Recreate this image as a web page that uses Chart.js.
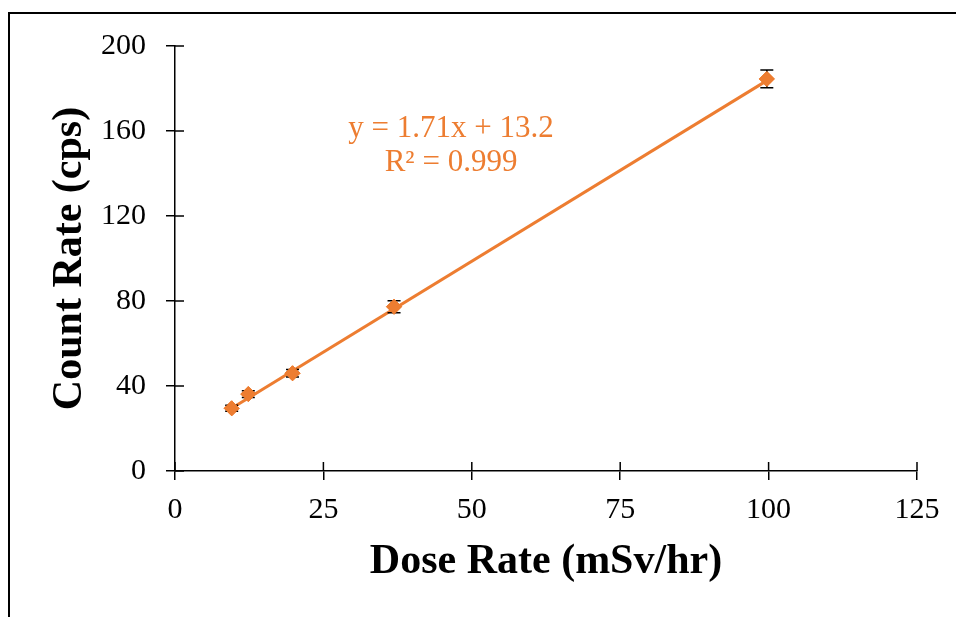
<!DOCTYPE html>
<html>
<head>
<meta charset="utf-8">
<script src="https://cdn.jsdelivr.net/npm/chart.js@4.4.1/dist/chart.umd.min.js"></script>
<style>
  html, body { margin: 0; padding: 0; background: #fff; }
  #wrap { position: relative; width: 956px; height: 617px; }
  #frame { position: absolute; left: 8px; top: 12px; right: 0; bottom: 0;
           border-left: 2px solid #000; border-top: 2px solid #000; pointer-events: none; }
</style>
</head>
<body>
<div id="wrap">
  <canvas id="chart" width="956" height="617"></canvas>
  <div id="frame"></div>
</div>
<script>
const doseRate = [9.55, 12.35, 19.8, 36.9, 99.7];
const countRate = [29.5, 36.2, 46.0, 77.3, 184.5];
const countErr = [1.4, 1.6, 1.8, 2.8, 4.2];
const trendX = [9.55, 99.7];
const trendY = [29.5, 183.7];
const xTicks = [0, 25, 50, 75, 100, 125];
const yTicks = [0, 40, 80, 120, 160, 200];
const fitText = ["y = 1.71x + 13.2", "R\u00b2 = 0.999"];

const orange = "#ED7D31";
const serif = "'Liberation Serif', 'Times New Roman', serif";

const points = doseRate.map((x, i) => ({ x: x, y: countRate[i] }));
const trend = trendX.map((x, i) => ({ x: x, y: trendY[i] }));

// error bars + inner half of the axis ticks + equation text
const extras = {
  id: 'extras',
  beforeDatasetsDraw(chart) {
    const ctx = chart.ctx;
    const xs = chart.scales.x, ys = chart.scales.y;
    ctx.save();
    ctx.strokeStyle = '#000';
    ctx.lineWidth = 1.5;
    ctx.beginPath();
    xTicks.forEach(v => {
      const px = xs.getPixelForValue(v);
      ctx.moveTo(px, ys.bottom);
      ctx.lineTo(px, ys.bottom - 9);
    });
    yTicks.forEach(v => {
      const py = ys.getPixelForValue(v);
      ctx.moveTo(xs.left, py);
      ctx.lineTo(xs.left + 9, py);
    });
    ctx.stroke();
    ctx.restore();
  },
  afterDatasetsDraw(chart) {
    const ctx = chart.ctx;
    const xs = chart.scales.x, ys = chart.scales.y;
    ctx.save();
    ctx.strokeStyle = '#000';
    ctx.lineWidth = 1.5;
    ctx.beginPath();
    doseRate.forEach((x, i) => {
      const px = xs.getPixelForValue(x);
      const top = ys.getPixelForValue(countRate[i] + countErr[i]);
      const bot = ys.getPixelForValue(countRate[i] - countErr[i]);
      ctx.moveTo(px, top); ctx.lineTo(px, bot);
      ctx.moveTo(px - 6.5, top); ctx.lineTo(px + 6.5, top);
      ctx.moveTo(px - 6.5, bot); ctx.lineTo(px + 6.5, bot);
    });
    ctx.stroke();
    // redraw markers on top of the bars
    const meta = chart.getDatasetMeta(0);
    meta.data.forEach(el => el.draw(ctx));

    const cx = xs.getPixelForValue(46.5);
    ctx.fillStyle = orange;
    ctx.font = "31px " + serif;
    ctx.textAlign = 'center';
    ctx.textBaseline = 'middle';
    ctx.fillText(fitText[0], cx, ys.getPixelForValue(161));
    ctx.fillText(fitText[1], cx, ys.getPixelForValue(145));
    ctx.restore();
  }
};

new Chart(document.getElementById('chart'), {
  type: 'scatter',
  data: {
    datasets: [
      {
        data: points,
        pointStyle: 'rectRot',
        pointRadius: 7.5,
        pointHoverRadius: 7.5,
        backgroundColor: orange,
        borderColor: orange,
        borderWidth: 1,
        showLine: false,
        order: 1
      },
      {
        type: 'line',
        data: trend,
        borderColor: orange,
        borderWidth: 3,
        pointRadius: 0,
        fill: false,
        order: 2
      }
    ]
  },
  options: {
    responsive: false,
    animation: false,
    events: [],
    layout: { padding: { left: 10, right: 39, top: 46, bottom: 0 } },
    plugins: { legend: { display: false }, tooltip: { enabled: false } },
    scales: {
      x: {
        type: 'linear',
        min: 0, max: 125,
        afterFit(s) { s.height = 146; },
        afterBuildTicks(s) { s.ticks = xTicks.map(v => ({ value: v })); },
        border: { color: '#000', width: 1.5 },
        grid: { drawOnChartArea: false, drawTicks: true, tickLength: 9, color: '#000', lineWidth: 1.5 },
        ticks: { color: '#000', padding: 12, maxRotation: 0, font: { family: serif, size: 30 } },
        title: {
          display: true, text: 'Dose Rate (mSv/hr)', color: '#000',
          font: { family: serif, size: 42, weight: 'bold', lineHeight: 1 },
          padding: { top: 0, bottom: 34 }
        }
      },
      y: {
        type: 'linear',
        min: 0, max: 200,
        afterFit(s) { s.width = 165; },
        afterBuildTicks(s) { s.ticks = yTicks.map(v => ({ value: v })); },
        border: { color: '#000', width: 1.5 },
        grid: { drawOnChartArea: false, drawTicks: true, tickLength: 9, color: '#000', lineWidth: 1.5 },
        ticks: { color: '#000', padding: 20, font: { family: serif, size: 30 } },
        title: {
          display: true, text: 'Count Rate (cps)', color: '#000',
          font: { family: serif, size: 42, weight: 'bold', lineHeight: 1 },
          padding: { top: 39, bottom: 0 }
        }
      }
    }
  },
  plugins: [extras]
});
</script>
</body>
</html>
